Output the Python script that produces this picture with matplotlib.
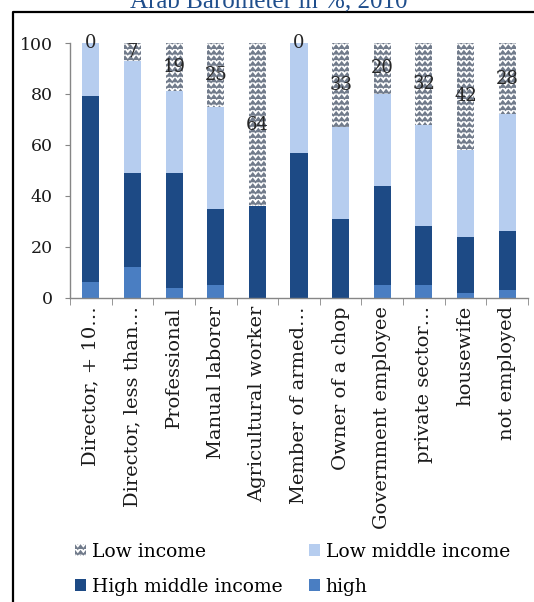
import warnings
import numpy as np
import matplotlib
matplotlib.use('agg')
import matplotlib.pyplot as plt
import matplotlib.hatch as mhatch
from matplotlib.path import Path
from matplotlib.lines import Line2D

warnings.filterwarnings('ignore')

categories = ['Director, + 10\u2026', 'Director, less than\u2026', 'Professional',
              'Manual laborer', 'Agricultural worker', 'Member of armed\u2026',
              'Owner of a chop', 'Government employee', 'private sector\u2026',
              'housewife', 'not employed']
high = [6, 12, 4, 5, 0, 0, 0, 5, 5, 2, 3]
high_middle = [73, 37, 45, 30, 36, 57, 31, 39, 23, 22, 23]
low_middle = [21, 44, 32, 40, 0, 43, 36, 36, 40, 34, 46]
low = [0, 7, 19, 25, 64, 0, 33, 20, 32, 42, 28]


# zigzag hatch like the excel "wave" pattern, registered as 'z'
class ZigzagHatch(mhatch.HatchPatternBase):
    def __init__(self, hatch, density):
        self.num_rows = int(hatch.count('z') * density)
        self.num_pts = 2 * self.num_rows + 1
        self.num_vertices = self.num_rows * self.num_pts

    def set_vertices_and_codes(self, vertices, codes):
        n = self.num_pts
        xs = np.linspace(0, 1, n)
        amp = 0.32 / self.num_rows
        offs = np.where(np.arange(n) % 2 == 0, -amp, amp)
        for i in range(self.num_rows):
            y = (i + 0.5) / self.num_rows
            vertices[i * n:(i + 1) * n, 0] = xs
            vertices[i * n:(i + 1) * n, 1] = y + offs
            codes[i * n:(i + 1) * n] = Path.LINETO
            codes[i * n] = Path.MOVETO


mhatch._hatch_types.append(ZigzagHatch)

plt.rcParams['font.family'] = ['DejaVu Serif']
plt.rcParams['hatch.linewidth'] = 1.1

fig = plt.figure(figsize=(5.34, 6.02), dpi=100)
ax = fig.add_axes([70 / 534, 1 - 297.7 / 602, 458 / 534, 254.7 / 602])

x = np.arange(len(categories))
w = 0.41
c_high = '#4a7ec2'
c_hm = '#1d4a85'
c_lm = '#b6cdef'

b1 = ax.bar(x, high, w, color=c_high, linewidth=0, label='high')
b2 = ax.bar(x, high_middle, w, bottom=high, color=c_hm, linewidth=0,
            label='High middle income')
bot3 = np.array(high) + np.array(high_middle)
b3 = ax.bar(x, low_middle, w, bottom=bot3, color=c_lm, linewidth=0,
            label='Low middle income')
bot4 = bot3 + np.array(low_middle)
b4 = ax.bar(x, low, w, bottom=bot4, facecolor='white', edgecolor='#717b8b',
            hatch='zzz', linewidth=0, label='Low income')

ax.bar_label(b4, labels=[str(v) for v in low], label_type='center',
             fontsize=13, color='#262626')

ax.set_ylim(0, 100)
ax.set_xlim(-0.5, len(categories) - 0.5)
ax.set_yticks([0, 20, 40, 60, 80, 100])
ax.set_xticks(x)
ax.set_xticklabels(categories, rotation=90, fontsize=14, color='#1a1a1a')
ax.set_xticks(np.arange(-0.5, len(categories)), minor=True)
ax.tick_params(axis='x', which='major', length=0, pad=6)
ax.tick_params(axis='x', which='minor', length=5, color='#868686')
ax.tick_params(axis='y', length=3.6, color='#868686', labelsize=12.5,
               labelcolor='#1a1a1a', pad=9)
for s in ['top', 'right']:
    ax.spines[s].set_visible(False)
for s in ['left', 'bottom']:
    ax.spines[s].set_color('#868686')
    ax.spines[s].set_linewidth(1.0)

fig.legend([b4, b2, b3, b1],
           ['Low income', 'High middle income', 'Low middle income', 'high'],
           ncol=2, loc='upper left', bbox_to_anchor=(58 / 534, 1 - 526 / 602),
           frameon=False, fontsize=13.5, handlelength=0.6, handleheight=0.6,
           handletextpad=0.3, columnspacing=1.4, labelspacing=0.9)

fig.text(0.503, 1 - 7 / 602, 'Arab Barometer in %, 2010', ha='center',
         va='baseline', fontsize=18, color='#1f4e8c', family='Liberation Serif')

# outer frame (cut off on the right and bottom)
fig.add_artist(Line2D([13 / 534, 13 / 534, 1.0], [0, 1 - 12 / 602, 1 - 12 / 602],
                      transform=fig.transFigure, color='black', linewidth=1.6))

fig.savefig('out.png', dpi=100)
